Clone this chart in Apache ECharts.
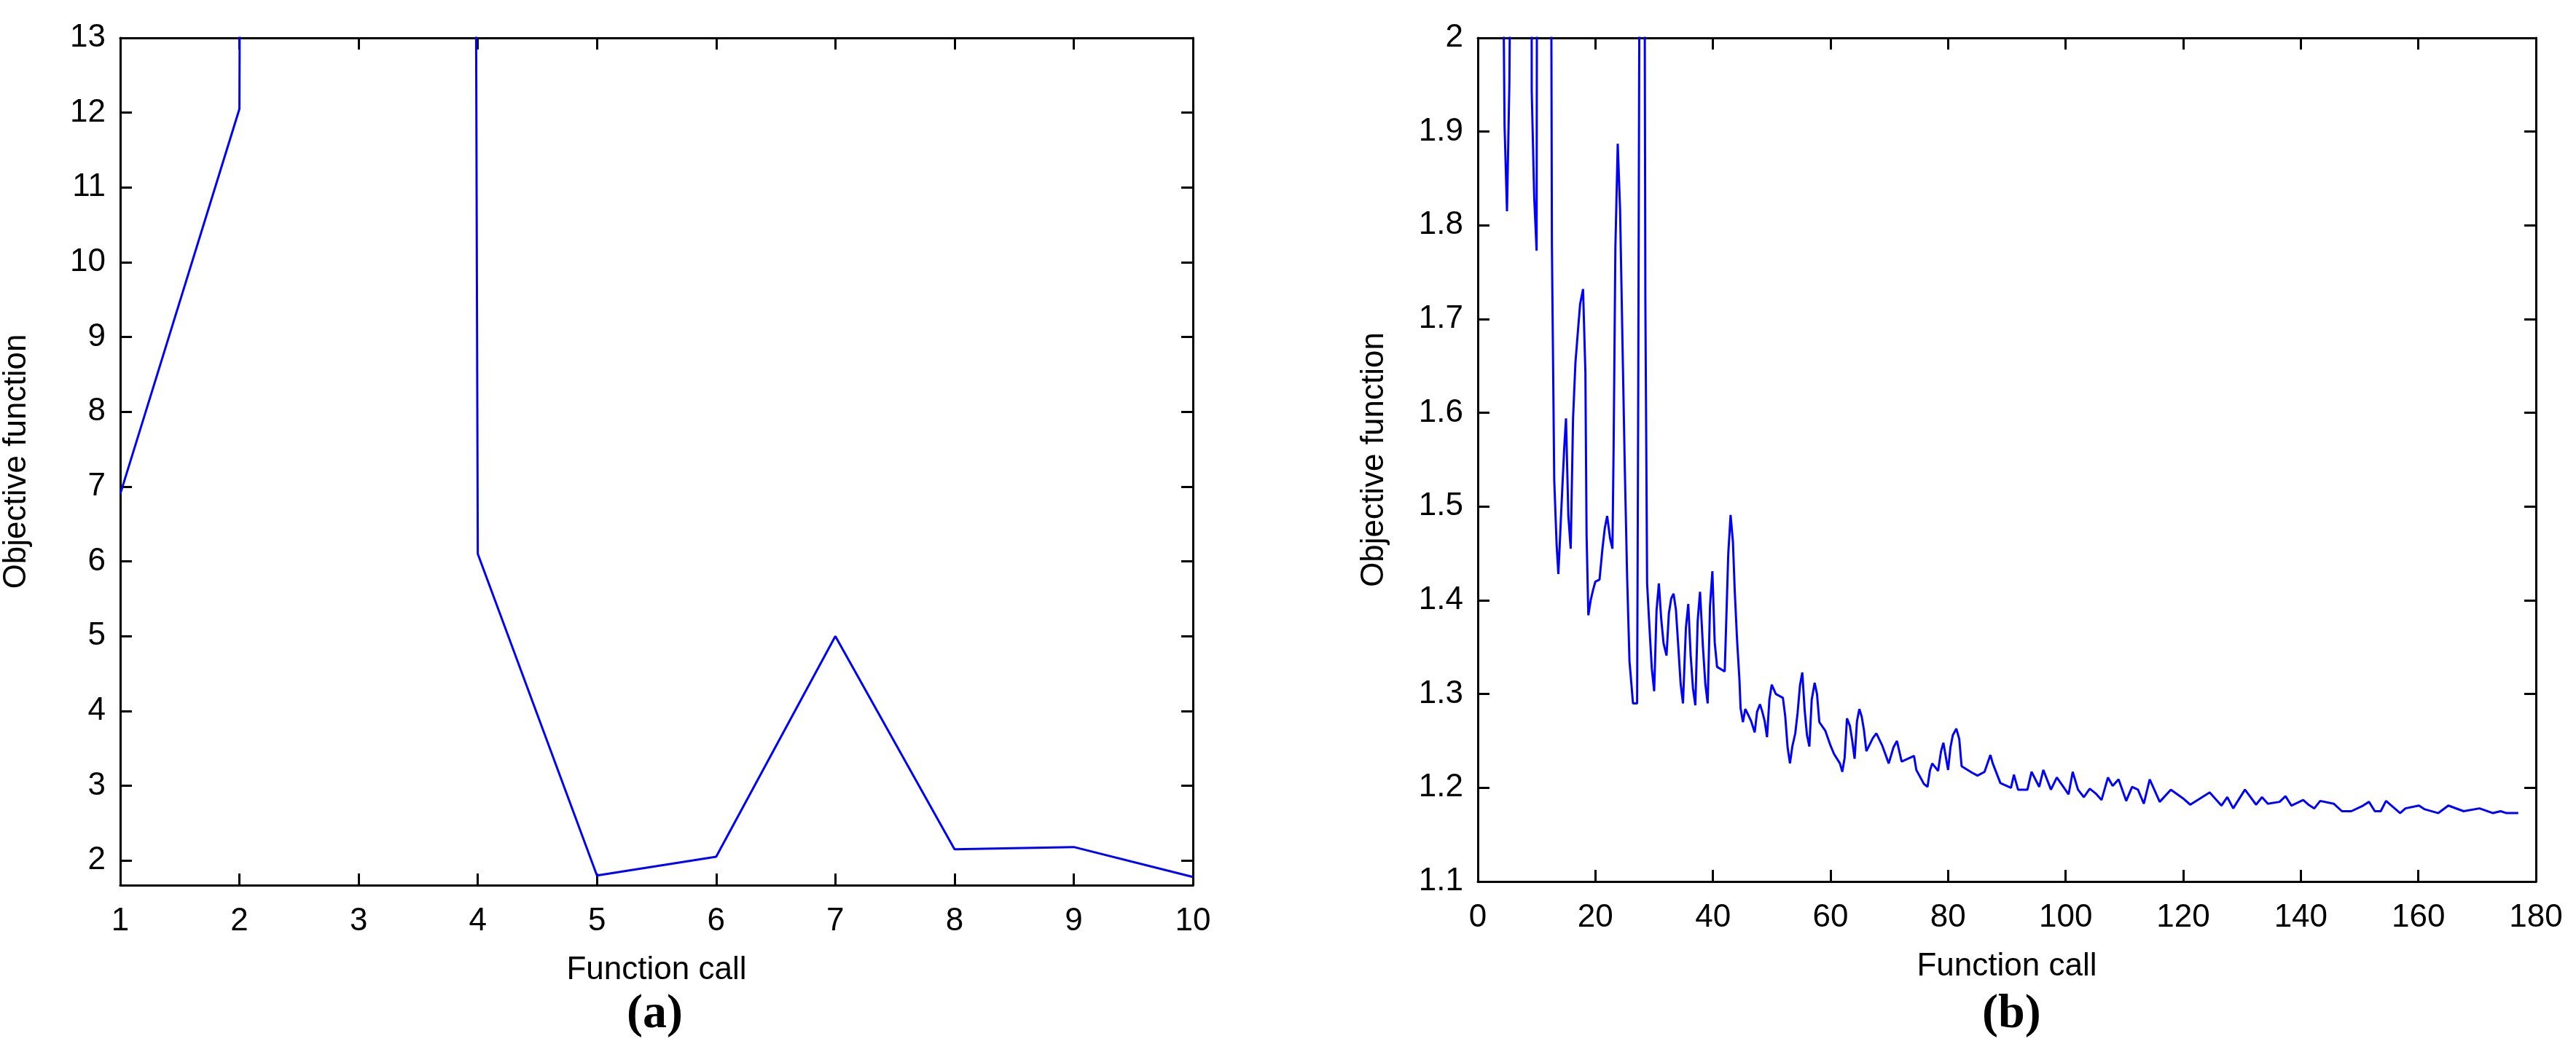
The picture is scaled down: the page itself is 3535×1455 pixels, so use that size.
<!DOCTYPE html>
<html>
<head>
<meta charset="utf-8">
<script src="https://cdn.jsdelivr.net/npm/echarts@6/dist/echarts.min.js"></script>
<style>
html,body{margin:0;padding:0;background:#fff;}
#chartDiv{width:3535px;height:1455px;}
</style>
</head>
<body>
<div id="chartDiv"></div>
<script>
// (a) first 10 calls
var callsA = [1, 2, 3, 4, 5, 6, 7, 8, 9, 10];
var objA = [6.9, 12.05, 500, 6.1, 1.8, 2.05, 5.0, 2.15, 2.18, 1.78];
var yTicksA = [2, 3, 4, 5, 6, 7, 8, 9, 10, 11, 12, 13];

// (b) whole run, [call, objective]
var callsB = [1, 2, 3, 4, 4.55, 4.96, 5.37, 5.79, 9.1, 9.17, 9.59, 10.0, 10.1, 12.4, 12.6, 13.0, 13.4, 13.7, 14.3, 14.7, 15.0, 15.4, 15.8, 16.2, 16.6, 17.0, 17.4, 17.9, 18.3, 18.5, 18.8, 19.2, 19.6, 20.0, 20.7, 21.2, 21.6, 22.0, 22.5, 22.9, 23.1, 23.4, 23.8, 24.2, 24.6, 25.0, 25.4, 25.8, 26.4, 27.1, 27.3, 27.6, 28.3, 28.5,
  28.8, 29.2, 29.6, 30.0, 30.4, 30.8, 31.2, 31.6, 32.1, 32.5, 32.9, 33.3, 33.7, 34.1, 34.5, 34.9, 35.4, 35.8, 36.2, 36.6, 37.0, 37.4, 37.8, 38.3, 38.7, 39.1, 39.5, 39.9, 40.3, 40.7, 42.0, 42.2, 42.6, 43.0, 43.4, 43.7, 44.1, 44.5, 44.7, 45.1, 45.5, 45.9, 46.5, 47.1, 47.5, 48.0, 48.4, 48.8, 49.2, 49.6, 50.0, 50.7, 51.9, 52.3, 52.7, 53.1, 53.5, 54.0, 54.4, 54.8, 55.2, 55.6, 56.0, 56.4, 56.8, 57.3, 57.7, 58.1, 59.1, 60.0, 60.6, 61.6, 62.0, 62.4, 62.8, 63.3, 63.7, 64.1, 64.5, 64.9, 65.3, 65.7, 66.1, 67.2, 67.8, 68.8, 69.9, 70.7, 71.3, 72.1, 74.2, 74.6, 75.9, 76.5, 76.9, 77.3, 78.3, 78.8, 79.2, 80.0, 80.4, 80.8, 81.4, 81.9, 82.3, 84.1, 85.0, 86.2, 87.2, 87.6, 88.9, 90.7,
  91.2, 91.9, 93.5, 94.2, 95.5, 96.2, 97.5, 98.5, 100.5, 101.2, 102.1, 103.1, 104.1, 105.1, 106.1, 107.2, 108.0, 109.0, 110.3, 111.3, 112.3, 113.3, 114.3, 116.0, 117.9, 119.9, 121.2, 124.5, 126.5, 127.5, 128.5, 130.5, 132.4, 133.4, 134.4, 136.4, 137.4, 138.4, 140.4, 141.3, 142.3, 143.3, 145.6, 147.0, 148.6, 150.6, 151.6, 152.6, 153.6, 154.5, 156.9, 157.8, 160.1, 161.1, 163.4, 165.1, 167.7, 170.4, 172.7, 174.0, 175.0, 177.0];
var objB = [2.6, 2.5, 2.4, 2.3, 1.906, 1.815, 1.953, 2.3, 2.3, 1.943, 1.83, 1.773, 2.3, 2.3, 1.78, 1.528, 1.46, 1.428, 1.51, 1.563, 1.594, 1.49, 1.455, 1.594, 1.653, 1.685, 1.716, 1.732, 1.643, 1.47, 1.384, 1.4, 1.411, 1.42, 1.422, 1.455, 1.477, 1.49, 1.466, 1.455, 1.563, 1.776, 1.887, 1.817, 1.678, 1.542, 1.425, 1.335, 1.29, 1.29, 1.645, 2.3, 2.3, 1.72,
  1.418, 1.371, 1.327, 1.303, 1.389, 1.418, 1.380, 1.354, 1.341, 1.386, 1.402, 1.407, 1.390, 1.351, 1.311, 1.290, 1.371, 1.396, 1.342, 1.306, 1.288, 1.378, 1.409, 1.350, 1.311, 1.290, 1.394, 1.431, 1.355, 1.329, 1.324, 1.365, 1.449, 1.491, 1.462, 1.411, 1.358, 1.316, 1.285, 1.270, 1.284, 1.279, 1.271, 1.259, 1.281, 1.289, 1.281, 1.271, 1.254, 1.294, 1.310, 1.300, 1.296, 1.276, 1.243, 1.226, 1.244, 1.258, 1.280, 1.309, 1.323, 1.283, 1.256, 1.244, 1.294, 1.312, 1.300, 1.270, 1.261, 1.245, 1.236, 1.226, 1.217, 1.232, 1.274, 1.266, 1.250, 1.231, 1.271, 1.284, 1.276, 1.261, 1.239, 1.253, 1.258, 1.245, 1.226, 1.243, 1.250, 1.228, 1.234, 1.219, 1.204, 1.201, 1.218, 1.226, 1.218, 1.239, 1.248, 1.219, 1.243, 1.256, 1.263, 1.252, 1.223, 1.216, 1.213, 1.217, 1.235, 1.226, 1.205, 1.200,
  1.214, 1.198, 1.198, 1.217, 1.201, 1.219, 1.198, 1.211, 1.193, 1.217, 1.198, 1.190, 1.199, 1.194, 1.187, 1.211, 1.202, 1.209, 1.186, 1.201, 1.198, 1.183, 1.209, 1.185, 1.198, 1.189, 1.182, 1.195, 1.181, 1.190, 1.178, 1.198, 1.182, 1.190, 1.183, 1.185, 1.191, 1.181, 1.187, 1.182, 1.178, 1.186, 1.183, 1.175, 1.175, 1.181, 1.185, 1.175, 1.175, 1.186, 1.173, 1.178, 1.181, 1.177, 1.173, 1.181, 1.175, 1.178, 1.173, 1.175, 1.173, 1.173];
var yTicksB = [1.1, 1.2, 1.3, 1.4, 1.5, 1.6, 1.7, 1.8, 1.9, 2];

var font = 'Liberation Sans Narrow, Arial Narrow, Liberation Sans, sans-serif';
var black = '#000';

var xAxisPair = function(gi, min, max, interval) {
    var base = {
        type: 'value', gridIndex: gi, min: min, max: max, interval: interval,
        axisLine: {show: true, onZero: false, lineStyle: {color: black, width: 3}},
        axisTick: {show: true, inside: true, length: 16, lineStyle: {color: black, width: 3}},
        splitLine: {show: false}
    };
    var bottom = Object.assign({}, base, {
        position: 'bottom',
        name: 'Function call', nameLocation: 'middle', nameGap: 95,
        nameTextStyle: {fontFamily: font, fontSize: 44, color: black},
        axisLabel: {fontFamily: font, fontSize: 44, color: black, margin: 28}
    });
    var top = Object.assign({}, base, {position: 'top', axisLabel: {show: false}});
    return [bottom, top];
};

var yAxisPair = function(gi, min, max, ticks, fmt) {
    var base = {
        type: 'value', gridIndex: gi, min: min, max: max,
        axisLine: {show: true, onZero: false, lineStyle: {color: black, width: 3}},
        axisTick: {show: true, inside: true, length: 16, customValues: ticks, lineStyle: {color: black, width: 3}},
        splitLine: {show: false}
    };
    var left = Object.assign({}, base, {
        position: 'left',
        name: 'Objective function', nameLocation: 'middle', nameGap: 120, nameRotate: 90,
        nameTextStyle: {fontFamily: font, fontSize: 44, color: black},
        axisLabel: {fontFamily: font, fontSize: 44, color: black, margin: 20, customValues: ticks, formatter: fmt}
    });
    var right = Object.assign({}, base, {position: 'right', axisLabel: {show: false}});
    return [left, right];
};

var pairs = function(xs, ys) {
    return xs.map(function(x, i) { return [x, ys[i]]; });
};

var getOption = function() {
    var option = {
        animation: false,
        backgroundColor: '#fff',
        grid: [
            {left: 154, top: 52, width: 1483, height: 1163},
            {left: 2028, top: 52, width: 1452, height: 1158}
        ],
        xAxis: xAxisPair(0, 1, 10, 1).concat(xAxisPair(1, 0, 180, 20)),
        yAxis: yAxisPair(0, 1.67, 13, yTicksA, function(v) { return String(v); })
            .concat(yAxisPair(1, 1.1, 2, yTicksB, function(v) { return v === 2 ? '2' : v.toFixed(1); })),
        series: [
            {
                type: 'line', xAxisIndex: 0, yAxisIndex: 0, data: pairs(callsA, objA),
                symbol: 'none', clip: true, lineStyle: {color: '#0000ff', width: 3}
            },
            {
                type: 'line', xAxisIndex: 2, yAxisIndex: 2, data: pairs(callsB, objB),
                symbol: 'none', clip: true, lineStyle: {color: '#0000ff', width: 3}
            }
        ],
        graphic: [
            {type: 'text', left: 860, top: 1360, style: {text: '(a)', font: 'bold 66px "Liberation Serif", serif', fill: black}},
            {type: 'text', left: 2720, top: 1360, style: {text: '(b)', font: 'bold 66px "Liberation Serif", serif', fill: black}}
        ]
    };
    return option;
};

var myChart = echarts.init(document.getElementById('chartDiv'));
myChart.setOption(getOption());
</script>
</body>
</html>
